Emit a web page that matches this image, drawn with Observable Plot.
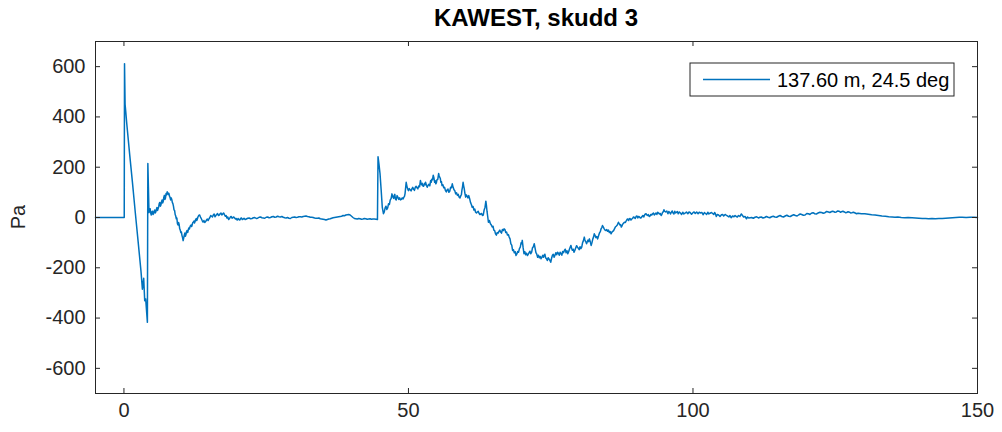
<!DOCTYPE html>
<html>
<head>
<meta charset="utf-8">
<script src="https://cdn.jsdelivr.net/npm/d3@7"></script>
<script src="https://cdn.jsdelivr.net/npm/@observablehq/plot@0.6"></script>
<style>
  html, body { margin: 0; padding: 0; background: #fff; }
  svg { display: block; }
</style>
</head>
<body>
<div id="chart"></div>
<script>
// Pressure record split into stretches of [time, Pa] samples.
const firstArrival = [
  [-5,0],[-2,0],[0.05,0],[0.1,612],[0.2,450],[0.3,425],[0.5,372],[1.0,252],[1.5,138],[2.0,18],
  [2.5,-98],[3.0,-215],[3.24,-285],[3.47,-242],[3.65,-331],[3.82,-324],[4.12,-417],[4.2,215],[4.3,120],[4.4,20]
];

const earlyCoda = [
  [4.5,28],[4.6,35],[4.7,18],[4.8,10],[4.9,22],[5.0,25],[5.1,12],[5.2,15],[5.3,25],[5.4,30],
  [5.5,18],[5.6,22],[5.7,32],[5.8,40],[5.9,28],[6.0,35],[6.1,42],[6.2,55],[6.3,60],[6.4,45],
  [6.5,50],[6.6,62],[6.7,70],[6.8,58],[6.9,64],[7.0,80],[7.1,88],[7.2,72],[7.3,78],[7.4,95],
  [7.5,90],[7.6,102],[7.7,98],[7.8,92],[7.9,96],[8.0,85],[8.1,80],[8.2,70],[8.3,78],[8.4,72],
  [8.5,60],[8.6,55],[8.7,45],[8.8,30],[8.9,28],[9.0,12],[9.1,6],[9.2,-5],[9.3,-2],[9.4,-25],
  [9.5,-30],[9.6,-20],[9.7,-28],[9.8,-45],[9.9,-50],[10.0,-60],[10.1,-58],[10.2,-72],[10.3,-80],[10.4,-92],
  [10.5,-82],[10.6,-70],[10.7,-62],[10.8,-75],[10.9,-68],[11.0,-55],[11.1,-52],[11.2,-60],[11.3,-50],[11.4,-42],
  [11.5,-46],[11.6,-38],[11.7,-32],[11.8,-30],[11.9,-36],[12.0,-28],[12.1,-20],[12.2,-18],[12.3,-14],[12.4,-22],
  [12.5,-16],[12.6,-8],[12.7,-4],[12.8,-12],[12.9,-6],[13.0,2],[13.15,8],[13.3,10],[13.45,2],[13.6,-5],
  [13.75,-12],[13.9,-18],[14.05,-12],[14.2,-20],[14.35,-16],[14.5,-10],[14.65,-6],[14.8,-12],[14.95,-5],[15.1,0],
  [15.25,8],[15.4,5],[15.55,2],[15.7,10],[15.85,14],[16.0,3],[16.15,8],[16.3,12],[16.45,16],[16.6,8],
  [16.75,10],[16.9,15],[17.05,18],[17.2,10],[17.35,14],[17.5,18],[17.65,12],[17.8,5],[17.95,8],[18.1,-2],
  [18.25,2],[18.4,-8],[18.55,-4],[18.7,2],[18.85,4],[19.0,-3],[19.15,0],[19.3,2],[19.45,-2],[19.6,-6],
  [19.75,-4],[19.9,-10],[20.05,-4],[20.2,-8],[20.35,-10],[20.5,-4],[20.65,-2],[20.8,-8],[20.95,-6],[21.1,-3],
  [21.3,-8],[21.5,-6],[21.75,-3],[22,-2],[22.25,-5],[22.5,-4],[22.75,-1],[23,0],[23.25,-4],[23.5,-3],
  [23.75,1],[24,2],[24.25,-1],[24.5,-2],[24.75,-3],[25,1],[25.25,2],[25.5,-1],[25.75,0],[26,3],
  [26.25,4],[26.5,1],[26.75,2],[27,5],[27.25,3],[27.5,2],[27.75,4],[28,1],[28.25,-1],[28.5,-2],
  [28.75,0],[29,-3],[29.25,-4],[29.5,0],[29.75,1],[30,2],[30.25,0],[30.5,1],[30.75,3],[31,3],
  [31.25,2],[31.5,4],[31.75,5],[32,6],[32.25,4],[32.5,3],[32.75,1],[33,1],[33.25,0],[33.5,-2],
  [33.75,-3],[34,-3],[34.25,-2],[34.5,-5],[34.75,-6],[35,-7],[35.25,-8],[35.5,-10],[35.75,-8],[36,-6],
  [36.25,-5],[36.5,-3],[36.75,-1],[37,0],[37.25,1],[37.5,2],[37.75,3],[38,4],[38.25,5],[38.5,8],
  [38.75,7],[39,10],[39.25,11],[39.5,12],[39.75,10],[40,5],[40.25,0],[40.5,-4],[40.75,-5],[41,-6],
  [41.25,-4],[41.5,-5],[41.75,-7],[42,-6],[42.25,-4],[42.5,-5],[42.75,-7],[43,-6],[43.25,-5],[43.5,-7],
  [43.75,-6],[44,-6],[44.3,-7],[44.55,-8]
];

const secondArrival = [
  [44.65,242],[44.8,215],[45.0,175],[45.2,110],[45.4,40],[45.6,15],
  [45.75,22],[45.9,38],[46.05,45],[46.2,32],[46.35,38],[46.5,55],[46.65,52],[46.8,70],[46.95,75],[47.1,94],
  [47.2,85],[47.3,80],[47.4,76],[47.5,88],[47.6,92],[47.7,74],[47.85,70],[48.0,87],[48.15,80],[48.3,72],
  [48.45,78],[48.6,70],[48.75,72],[48.9,78],[49.05,74],[49.2,81],[49.3,84],[49.4,95],[49.5,118],[49.6,140],
  [49.7,128],[49.8,118],[49.9,112],[50.0,107],[50.15,115],[50.3,110],[50.45,106],[50.6,114],[50.75,120],[50.9,112],
  [51.05,108],[51.2,120],[51.35,124],[51.5,118],[51.65,114],[51.8,125],[51.95,122],[52.1,147],[52.2,138],[52.3,130],
  [52.4,136],[52.5,127],[52.65,124],[52.8,135],[52.9,130],[53.0,140],[53.15,128],[53.3,120],[53.45,128],[53.6,132],
  [53.75,126],[53.9,147],[54.0,140],[54.1,152],[54.22,150],[54.35,168],[54.47,158],[54.6,140],[54.7,146],[54.8,134],
  [54.9,138],[55.0,150],[55.15,152],[55.3,175],[55.4,165],[55.5,160],[55.6,155],[55.7,140],[55.8,142],[55.9,127],
  [56.05,130],[56.2,118],[56.35,120],[56.5,107],[56.65,102],[56.8,110],[56.95,113],[57.1,100],[57.25,104],[57.4,120],
  [57.55,118],[57.7,134],[57.85,120],[58.0,110],[58.15,106],[58.3,94],[58.45,98],[58.6,88],[58.75,92],[58.9,81],
  [59.05,78],[59.2,87],[59.3,90],[59.4,110],[59.5,122],[59.6,140],[59.7,126],[59.8,115],[59.92,96],[60.05,81],
  [60.17,90],[60.3,85],[60.45,78],[60.6,87],[60.75,75],[60.9,60],[61.05,52],[61.2,41],[61.35,44],[61.5,30],
  [61.65,34],[61.8,21],[61.95,18],[62.1,22],[62.25,25],[62.4,17],[62.55,12],[62.7,14],[62.85,16],[63.0,8],
  [63.15,10],[63.3,30],[63.45,40],[63.6,65],[63.7,48],[63.8,25],[63.92,5],[64.05,-19],[64.22,-12],[64.4,-25],
  [64.57,-30],[64.75,-38],[64.87,-35],[65.0,-50],[65.15,-52],[65.3,-65],[65.45,-70],[65.6,-60],[65.75,-62],[65.9,-55],
  [66.05,-50],[66.2,-58],[66.35,-62],[66.5,-48],[66.65,-52],[66.8,-45],[66.95,-48],[67.1,-60],[67.25,-58],[67.4,-70],
  [67.55,-68],[67.7,-78],[67.85,-85],[68.0,-105],[68.15,-110],[68.3,-131],[68.45,-128],[68.6,-140],[68.75,-136],[68.9,-151],
  [69.05,-145],[69.2,-135],[69.35,-138],[69.5,-124],[69.65,-118],[69.8,-100],[69.9,-104],[70.0,-91],[70.15,-120],[70.3,-144],
  [70.45,-136],[70.6,-148],[70.75,-142],[70.9,-151],[71.05,-146],[71.2,-140],[71.35,-134],[71.5,-144],[71.65,-138],[71.8,-120],
  [71.95,-116],[72.1,-104],[72.25,-122],[72.4,-140],[72.55,-146],[72.7,-158],[72.85,-150],[73.0,-160],[73.15,-155],[73.3,-164],
  [73.45,-158],[73.6,-150],[73.72,-158],[73.85,-151],[73.97,-146],[74.1,-160],[74.25,-164],[74.4,-171],[74.55,-160],[74.7,-165],
  [74.85,-170],[75.0,-178],[75.15,-162],[75.3,-150],[75.45,-146],[75.6,-158],[75.75,-150],[75.9,-140],[76.05,-148],[76.2,-138],
  [76.35,-142],[76.5,-150],[76.65,-138],[76.8,-144],[76.95,-150],[77.1,-135],[77.25,-140],[77.4,-131],[77.55,-126],[77.7,-140],
  [77.85,-132],[78.0,-144],[78.15,-136],[78.3,-125],[78.42,-118],[78.55,-111],[78.67,-122],[78.8,-130],[78.95,-126],[79.1,-138],
  [79.25,-130],[79.4,-120],[79.55,-112],[79.7,-118],[79.85,-122],[80.0,-128],[80.15,-116],[80.3,-124],[80.45,-118],[80.6,-100],
  [80.75,-92],[80.9,-78],[81.0,-88],[81.1,-95],[81.2,-98],[81.3,-104],[81.42,-96],[81.55,-90],[81.67,-96],[81.8,-85],
  [81.95,-96],[82.1,-111],[82.25,-100],[82.4,-85],[82.52,-78],[82.65,-65],[82.8,-72],[82.95,-80],[83.1,-76],[83.25,-85],
  [83.42,-72],[83.6,-60],[83.72,-56],[83.85,-45],[83.97,-40],[84.1,-32],[84.25,-38],[84.4,-45],[84.55,-50],[84.7,-52],
  [84.85,-48],[85.0,-55],[85.15,-50],[85.3,-60],[85.45,-56],[85.6,-65],[85.75,-58],[85.9,-55],[86.05,-52],[86.2,-45],
  [86.35,-38],[86.5,-35],[86.7,-30],[86.9,-19],[87.02,-24],[87.15,-30],[87.27,-28],[87.4,-38],[87.55,-32],[87.7,-25],
  [87.82,-22],[87.95,-19],[88.12,-20],[88.3,-12],[88.45,-6],[88.6,-8],[88.7,-12],[88.8,-5],[88.95,-4],[89.1,-10],
  [89.25,-6],[89.4,-3],[89.55,2],[89.7,0],[89.85,-4],[90.0,4],[90.15,6],[90.3,-2],[90.45,4],[90.6,2],
  [90.75,-2],[90.9,-1],[91.05,4],[91.2,8],[91.35,2],[91.5,10],[91.62,14],[91.75,15],[91.87,10],[92.0,8],
  [92.15,12],[92.3,4],[92.45,6],[92.6,12],[92.75,10],[92.9,15],[93.05,18],[93.2,10],[93.35,14],[93.5,18],
  [93.65,12],[93.8,21],[93.95,18],[94.1,14],[94.25,16],[94.4,8],[94.52,12],[94.65,20],[94.77,22],[94.9,31],
  [95.05,24],[95.2,22],[95.4,26],[95.6,15],[95.75,24],[95.9,20],[96.05,14],[96.2,21],[96.35,26],[96.5,18],
  [96.65,14],[96.8,25],[96.95,18],[97.1,20],[97.25,24],[97.4,15],[97.6,22],[97.8,18],[98.0,12],[98.2,21],
  [98.4,14],[98.6,17],[98.85,22],[99.1,15],[99.3,22],[99.5,20],[99.75,13],[100.0,19],[100.2,22],[100.4,16],
  [100.65,22],[100.9,15],[101.1,21],[101.3,18],[101.55,20],[101.8,11],[102.0,20],[102.2,16],[102.4,12],[102.6,21],
  [102.8,14],[103.0,17],[103.25,20],[103.5,15],[103.65,12],[103.8,20],[103.95,14],[104.1,4],[104.3,12],[104.5,10],
  [104.75,4],[105.0,11],[105.2,12],[105.4,6],[105.65,12],[105.9,8],[106.1,5],[106.3,2],[106.5,8],[106.7,-1],
  [106.95,6],[107.2,3],[107.4,8],[107.6,4],[107.8,2],[108.0,8],[108.25,4],[108.5,14],[108.7,8],[108.9,2],
  [109.15,4],[109.4,-5],[109.6,2],[109.8,-2]
];

const lateTail = [
  [110.3,0],[110.6,-3],[110.9,1],[111.2,3],[111.5,-2],[111.75,1],[112,2],[112.3,-2],[112.6,0],[112.9,4],
  [113.2,1],[113.5,-1],[113.8,3],[114.1,5],[114.4,2],[114.7,1],[115,5],[115.3,8],[115.6,4],[115.9,2],
  [116.2,6],[116.5,9],[116.8,5],[117.1,4],[117.4,8],[117.7,11],[118,8],[118.3,6],[118.6,11],[118.85,14],
  [119.1,12],[119.4,9],[119.7,10],[120.0,16],[120.3,15],[120.55,12],[120.8,17],[121.1,19],[121.4,15],[121.7,14],
  [122,18],[122.3,21],[122.6,20],[122.9,17],[123.2,19],[123.5,24],[123.8,22],[124.05,20],[124.3,23],[124.5,25],
  [124.7,24],[124.95,21],[125.2,22],[125.45,26],[125.7,25],[125.9,21],[126.1,23],[126.35,25],[126.6,22],[126.8,19],
  [127,20],[127.25,23],[127.5,21],[127.7,18],[127.9,19],[128.2,21],[128.5,18],[128.75,15],[129,17],[129.6,15],
  [130.2,15],[130.8,13],[131.4,11],[132,10],[132.6,8],[133.2,6],[133.8,5],[134.4,3],[135,2],[135.5,1],
  [136,2],[136.6,0],[137.2,-1],[137.8,0],[138.5,-1],[139.1,-2],[139.7,-3],[140.3,-4],[140.9,-4],[141.4,-5],
  [142,-4],[142.6,-5],[143.2,-4],[143.8,-4],[144.4,-3],[145,-2],[145.6,-1],[146.2,0],[146.8,1],[147.3,1],
  [148,0],[148.7,1],[149.4,1],[150,0]
];

const xTicks = [0, 50, 100, 150];
const yTicks = [-600, -400, -200, 0, 200, 400, 600];
const titleText = "KAWEST, skudd 3";
const yLabel = "Pa";
const legendLabel = "137.60 m, 24.5 deg";

const series = [...firstArrival, ...earlyCoda, ...secondArrival, ...lateTail].map(([t, p]) => ({t, p}));

const W = 1002, H = 432;
const mL = 95, mR = 25, mT = 41, mB = 39;
const innerW = W - mL - mR, innerH = H - mT - mB;
const ink = "#262626";
const lineColor = "#0072BD";
const font = "'Liberation Sans', Arial, Helvetica, sans-serif";
const tickLen = 5;

const chart = Plot.plot({
  width: W,
  height: H,
  marginLeft: mL,
  marginRight: mR,
  marginTop: mT,
  marginBottom: mB,
  style: {fontFamily: font, fontSize: "20px", color: ink, background: "#fff", overflow: "visible"},
  x: {domain: [-5, 150]},
  y: {domain: [-700, 700]},
  marks: [
    Plot.line(series, {x: "t", y: "p", stroke: lineColor, strokeWidth: 1.5, strokeLinejoin: "round"}),
    // inward ticks on all four sides of the box
    Plot.tickX(xTicks, {x: d => d, stroke: ink, strokeWidth: 1, insetTop: innerH - tickLen}),
    Plot.tickX(xTicks, {x: d => d, stroke: ink, strokeWidth: 1, insetBottom: innerH - tickLen}),
    Plot.tickY(yTicks, {y: d => d, stroke: ink, strokeWidth: 1, insetRight: innerW - tickLen}),
    Plot.tickY(yTicks, {y: d => d, stroke: ink, strokeWidth: 1, insetLeft: innerW - tickLen}),
    Plot.axisX({ticks: xTicks, tickSize: 0, tickPadding: 9, tickFormat: d => String(d), label: null, fill: ink}),
    Plot.axisY({ticks: yTicks, tickSize: 0, tickPadding: 10, tickFormat: d => String(d), label: null, fill: ink}),
    Plot.frame({stroke: ink, strokeWidth: 1})
  ]
});

const svg = d3.select(chart);

// title
svg.append("text")
  .attr("x", mL + innerW / 2)
  .attr("y", 26)
  .attr("text-anchor", "middle")
  .attr("font-family", font)
  .attr("font-size", 24)
  .attr("font-weight", "bold")
  .attr("fill", "#000")
  .text(titleText);

// y axis label
svg.append("text")
  .attr("transform", `translate(25,${mT + innerH / 2}) rotate(-90)`)
  .attr("text-anchor", "middle")
  .attr("font-family", font)
  .attr("font-size", 20)
  .attr("fill", ink)
  .text(yLabel);

// legend box, upper right inside the axes
const lg = svg.append("g").attr("transform", `translate(${mL + innerW - 23},${mT + 22})`);
lg.append("rect")
  .attr("x", -264).attr("y", 0).attr("width", 264).attr("height", 33)
  .attr("fill", "#fff").attr("stroke", ink).attr("stroke-width", 1);
lg.append("line")
  .attr("x1", -251).attr("x2", -184).attr("y1", 16.5).attr("y2", 16.5)
  .attr("stroke", lineColor).attr("stroke-width", 1.5);
lg.append("text")
  .attr("x", -177).attr("y", 23.5)
  .attr("text-anchor", "start")
  .attr("font-family", font).attr("font-size", 20).attr("fill", "#000")
  .text(legendLabel);

document.getElementById("chart").append(chart);
</script>
</body>
</html>
